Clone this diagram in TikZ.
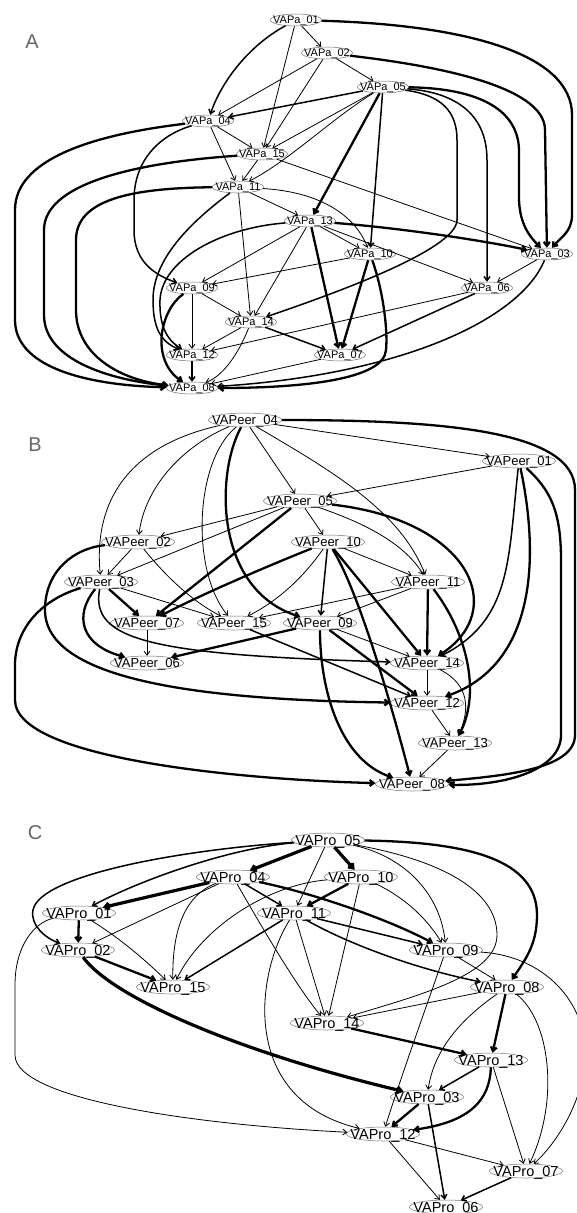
\documentclass[tikz,border=0pt]{standalone}
\usepackage{fontspec}
\setmainfont{Liberation Sans}
\usetikzlibrary{shapes.geometric,arrows.meta}
\newcommand\vlab[1]{\raisebox{-0.36em}[0pt][0pt]{\makebox[0pt]{#1}}}
\tikzset{
  vn/.style={ellipse, draw=black!55, line width=0.5pt, inner sep=0pt, fill=white},
  na/.style={vn, minimum width=51pt, minimum height=12pt, font=\fontsize{11}{11}\selectfont},
  nb/.style={vn, minimum width=73pt, minimum height=14pt, font=\fontsize{13}{13}\selectfont},
  nc/.style={vn, minimum width=73pt, minimum height=14pt, font=\fontsize{14.5}{14.5}\selectfont},
  edge/.style={draw=black, -{Straight Barb[length=4pt,width=6pt]}},
  e1/.style={edge, line width=0.8pt},
  e2/.style={edge, line width=1.5pt},
  e3/.style={edge, line width=2.3pt},
  e4/.style={edge, line width=3.2pt},
  panel/.style={text=black!60, inner sep=0pt, font=\fontsize{20}{20}\selectfont}
}
\begin{document}
\begin{tikzpicture}[x=1pt,y=-1pt]
\fill[white] (0,0) rectangle (577,1213);
\useasboundingbox (0,0) rectangle (577,1213);

% ---------------- panel A ----------------
\node[panel] (labA) at (32,42) {A};
\node[na] (a01) at (296,20) {\vlab{VAPa\_01}};
\node[na] (a02) at (327,53) {\vlab{VAPa\_02}};
\node[na] (a05) at (383,87) {\vlab{VAPa\_05}};
\node[na] (a04) at (208,121) {\vlab{VAPa\_04}};
\node[na] (a15) at (262,154) {\vlab{VAPa\_15}};
\node[na] (a11) at (238,187) {\vlab{VAPa\_11}};
\node[na] (a13) at (310,221) {\vlab{VAPa\_13}};
\node[na] (a10) at (370,254) {\vlab{VAPa\_10}};
\node[na] (a03) at (547,254) {\vlab{VAPa\_03}};
\node[na] (a09) at (192,288) {\vlab{VAPa\_09}};
\node[na] (a06) at (487,288) {\vlab{VAPa\_06}};
\node[na] (a14) at (251,322) {\vlab{VAPa\_14}};
\node[na] (a12) at (192,355) {\vlab{VAPa\_12}};
\node[na] (a07) at (340,355) {\vlab{VAPa\_07}};
\node[na] (a08) at (192,388) {\vlab{VAPa\_08}};

\draw[e1] (a01) -- (a02);
\draw[e2] (a01) .. controls (250,45) and (222,80) .. (a04);
\draw[e1] (a01) -- (a15);
\draw[e3] (a01) .. controls (470,25) and (572,55) .. (572,115) -- (572,215) .. controls (572,232) and (560,238) .. (a03);
\draw[e3] (a02) .. controls (430,65) and (545,85) .. (545,130) -- (a03);
\draw[e1] (a02) -- (a05);
\draw[e1] (a02) -- (a04);
\draw[e1] (a02) -- (a15);
\draw[e2] (a05) -- (a04);
\draw[e1] (a05) -- (a15);
\draw[e1] (a05) .. controls (330,120) and (290,160) .. (a11);
\draw[e3] (a05) -- (a13);
\draw[e2] (a05) -- (a10);
\draw[e2] (a05) .. controls (440,95) and (457,110) .. (457,140) -- (457,220) .. controls (457,250) and (330,295) .. (a14);
\draw[e2] (a05) .. controls (450,92) and (487,110) .. (487,160) -- (a06);
\draw[e3] (a05) .. controls (470,88) and (518,105) .. (519,150) -- (519,200) .. controls (520,225) and (530,237) .. (a03);
\draw[e1] (a04) -- (a15);
\draw[e1] (a04) -- (a11);
\draw[e3] (a04) .. controls (90,135) and (15,160) .. (15,210) -- (15,320) .. controls (15,365) and (80,385) .. (a08);
\draw[e2] (a04) .. controls (160,135) and (134,160) .. (134,200) -- (134,230) .. controls (134,262) and (155,275) .. (a09);
\draw[e1] (a15) -- (a11);
\draw[e3] (a15) .. controls (130,163) and (44,185) .. (44,230) -- (44,315) .. controls (44,360) and (110,380) .. (a08);
\draw[e1] (a15) -- (a03);
\draw[e3] (a11) .. controls (130,188) and (76,200) .. (76,240) -- (76,310) .. controls (76,355) and (120,380) .. (a08);
\draw[e1] (a11) -- (a13);
\draw[e1] (a11) -- (a14);
\draw[e2] (a11) .. controls (180,230) and (153,265) .. (153,300) .. controls (153,330) and (162,342) .. (a12);
\draw[e1] (a11) .. controls (320,192) and (355,215) .. (a10);
\draw[e1] (a13) -- (a10);
\draw[e3] (a13) .. controls (400,228) and (480,240) .. (a03);
\draw[e1] (a13) -- (a06);
\draw[e1] (a13) -- (a09);
\draw[e1] (a13) -- (a14);
\draw[e3] (a13) -- (a07);
\draw[e2] (a13) .. controls (220,228) and (162,260) .. (160,300) .. controls (159,330) and (170,342) .. (a12);
\draw[e1] (a10) -- (a09);
\draw[e3] (a10) -- (a07);
\draw[e3] (a10) .. controls (383,290) and (388,330) .. (386,350) .. controls (384,380) and (300,388) .. (a08);
\draw[e1] (a03) -- (a06);
\draw[e2] (a03) .. controls (520,320) and (400,375) .. (a08);
\draw[e1] (a09) -- (a14);
\draw[e1] (a09) -- (a12);
\draw[e3] (a09) .. controls (160,310) and (150,360) .. (a08);
\draw[e1] (a06) -- (a12);
\draw[e2] (a06) -- (a07);
\draw[e1] (a14) -- (a12);
\draw[e2] (a14) -- (a07);
\draw[e1] (a14) .. controls (240,350) and (225,375) .. (a08);
\draw[e2] (a12) -- (a08);
\draw[e1] (a07) -- (a08);

% ---------------- panel B ----------------
\node[panel] (labB) at (35,445) {B};
\node[nb] (b04) at (245,420) {\vlab{VAPeer\_04}};
\node[nb] (b01) at (519,461) {\vlab{VAPeer\_01}};
\node[nb] (b05) at (300,501) {\vlab{VAPeer\_05}};
\node[nb] (b02) at (138,542) {\vlab{VAPeer\_02}};
\node[nb] (b10) at (328,542) {\vlab{VAPeer\_10}};
\node[nb] (b03) at (101,582) {\vlab{VAPeer\_03}};
\node[nb] (b11) at (428,582) {\vlab{VAPeer\_11}};
\node[nb] (b07) at (147,623) {\vlab{VAPeer\_07}};
\node[nb] (b15) at (234,623) {\vlab{VAPeer\_15}};
\node[nb] (b09) at (320,623) {\vlab{VAPeer\_09}};
\node[nb] (b06) at (147,663) {\vlab{VAPeer\_06}};
\node[nb] (b14) at (427,663) {\vlab{VAPeer\_14}};
\node[nb] (b12) at (427,703) {\vlab{VAPeer\_12}};
\node[nb] (b13) at (455,743) {\vlab{VAPeer\_13}};
\node[nb] (b08) at (412,784) {\vlab{VAPeer\_08}};

\draw[e1] (b04) -- (b01);
\draw[e3] (b04) .. controls (440,420) and (575,430) .. (575,490) -- (575,735) .. controls (575,770) and (500,776) .. (b08);
\draw[e1] (b04) -- (b05);
\draw[e1] (b04) .. controls (185,445) and (145,485) .. (b02);
\draw[e1] (b04) .. controls (130,445) and (93,500) .. (b03);
\draw[e1] (b04) .. controls (195,460) and (190,570) .. (b15);
\draw[e3] (b04) .. controls (215,475) and (215,590) .. (b09);
\draw[e1] (b04) .. controls (330,470) and (400,510) .. (b11);
\draw[e1] (b01) -- (b05);
\draw[e2] (b01) .. controls (508,560) and (512,620) .. (b14);
\draw[e3] (b01) .. controls (540,560) and (535,665) .. (b12);
\draw[e3] (b01) .. controls (550,490) and (561,510) .. (561,560) -- (561,735) .. controls (561,770) and (505,786) .. (b08);
\draw[e1] (b05) -- (b02);
\draw[e1] (b05) -- (b03);
\draw[e3] (b05) -- (b07);
\draw[e1] (b05) -- (b10);
\draw[e1] (b05) .. controls (370,525) and (405,545) .. (b11);
\draw[e3] (b05) .. controls (470,520) and (510,610) .. (b14);
\draw[e1] (b02) -- (b03);
\draw[e1] (b02) .. controls (165,575) and (190,600) .. (b15);
\draw[e3] (b02) .. controls (75,548) and (45,570) .. (45,610) .. controls (45,680) and (200,700) .. (b12);
\draw[e3] (b03) -- (b07);
\draw[e1] (b03) -- (b15);
\draw[e3] (b03) .. controls (74,615) and (80,645) .. (b06);
\draw[e2] (b03) .. controls (90,640) and (150,655) .. (b14);
\draw[e3] (b03) .. controls (40,600) and (15,630) .. (15,665) -- (15,700) .. controls (15,760) and (250,780) .. (b08);
\draw[e3] (b10) .. controls (270,565) and (200,595) .. (b07);
\draw[e1] (b10) .. controls (305,575) and (280,600) .. (b15);
\draw[e2] (b10) -- (b09);
\draw[e1] (b10) -- (b11);
\draw[e3] (b10) -- (b14);
\draw[e3] (b10) .. controls (355,585) and (385,680) .. (b08);
\draw[e1] (b11) -- (b15);
\draw[e1] (b11) -- (b09);
\draw[e3] (b11) -- (b14);
\draw[e3] (b11) .. controls (465,630) and (482,690) .. (b13);
\draw[e1] (b07) -- (b06);
\draw[e2] (b15) -- (b12);
\draw[e3] (b09) -- (b06);
\draw[e1] (b09) -- (b14);
\draw[e3] (b09) -- (b12);
\draw[e3] (b09) .. controls (320,690) and (340,760) .. (b08);
\draw[e1] (b14) -- (b12);
\draw[e1] (b14) .. controls (470,685) and (470,710) .. (b13);
\draw[e1] (b12) -- (b13);
\draw[e1] (b13) -- (b08);

% ---------------- panel C ----------------
\node[panel] (labC) at (35,833) {C};
\node[nc] (c05) at (328,840) {\vlab{VAPro\_05}};
\node[nc] (c04) at (233,877) {\vlab{VAPro\_04}};
\node[nc] (c10) at (361,877) {\vlab{VAPro\_10}};
\node[nc] (c01) at (79,913) {\vlab{VAPro\_01}};
\node[nc] (c11) at (294,913) {\vlab{VAPro\_11}};
\node[nc] (c02) at (78,950) {\vlab{VAPro\_02}};
\node[nc] (c09) at (446,950) {\vlab{VAPro\_09}};
\node[nc] (c15) at (173,987) {\vlab{VAPro\_15}};
\node[nc] (c08) at (507,987) {\vlab{VAPro\_08}};
\node[nc] (c14) at (327,1023) {\vlab{VAPro\_14}};
\node[nc] (c13) at (491,1060) {\vlab{VAPro\_13}};
\node[nc] (c03) at (427,1097) {\vlab{VAPro\_03}};
\node[nc] (c12) at (383,1134) {\vlab{VAPro\_12}};
\node[nc] (c07) at (526,1171) {\vlab{VAPro\_07}};
\node[nc] (c06) at (446,1207) {\vlab{VAPro\_06}};

\draw[e4] (c05) -- (c04);
\draw[e4] (c05) -- (c10);
\draw[e2] (c05) .. controls (230,848) and (140,880) .. (c01);
\draw[e2] (c05) .. controls (180,850) and (40,875) .. (33,910) .. controls (30,925) and (45,938) .. (c02);
\draw[e1] (c05) -- (c11);
\draw[e1] (c05) .. controls (400,855) and (440,890) .. (c09);
\draw[e1] (c05) .. controls (440,860) and (497,890) .. (497,935) .. controls (497,975) and (420,995) .. (c14);
\draw[e3] (c05) .. controls (470,842) and (537,860) .. (537,915) .. controls (537,945) and (525,960) .. (c08);
\draw[e4] (c04) -- (c01);
\draw[e1] (c04) -- (c02);
\draw[e1] (c04) .. controls (185,895) and (172,930) .. (c15);
\draw[e2] (c04) -- (c11);
\draw[e3] (c04) .. controls (300,890) and (380,915) .. (c09);
\draw[e1] (c04) .. controls (255,915) and (295,985) .. (c14);
\draw[e3] (c10) -- (c11);
\draw[e1] (c10) .. controls (265,885) and (200,930) .. (c15);
\draw[e1] (c10) -- (c14);
\draw[e1] (c10) .. controls (400,895) and (425,915) .. (c09);
\draw[e3] (c01) -- (c02);
\draw[e1] (c01) .. controls (115,935) and (140,955) .. (c15);
\draw[e1] (c01) .. controls (35,922) and (15,945) .. (15,985) -- (15,1055) .. controls (15,1100) and (200,1125) .. (c12);
\draw[e2] (c11) -- (c15);
\draw[e2] (c11) -- (c09);
\draw[e2] (c11) .. controls (350,945) and (420,970) .. (c08);
\draw[e1] (c11) -- (c14);
\draw[e1] (c11) .. controls (255,975) and (240,1100) .. (c12);
\draw[e3] (c02) -- (c15);
\draw[e4] (c02) .. controls (110,995) and (230,1050) .. (c03);
\draw[e1] (c09) -- (c08);
\draw[e1] (c09) .. controls (425,1010) and (400,1080) .. (c12);
\draw[e1] (c09) .. controls (530,955) and (575,985) .. (585,1040) .. controls (590,1090) and (560,1140) .. (c07);
\draw[e1] (c08) -- (c14);
\draw[e3] (c08) -- (c13);
\draw[e1] (c08) .. controls (460,1020) and (434,1050) .. (c03);
\draw[e1] (c08) .. controls (550,1020) and (560,1100) .. (c07);
\draw[e3] (c14) -- (c13);
\draw[e2] (c13) -- (c03);
\draw[e3] (c13) .. controls (490,1100) and (470,1122) .. (c12);
\draw[e1] (c13) -- (c07);
\draw[e3] (c03) -- (c12);
\draw[e2] (c03) -- (c06);
\draw[e1] (c12) -- (c07);
\draw[e1] (c12) -- (c06);
\draw[e2] (c07) -- (c06);
\end{tikzpicture}
\end{document}
